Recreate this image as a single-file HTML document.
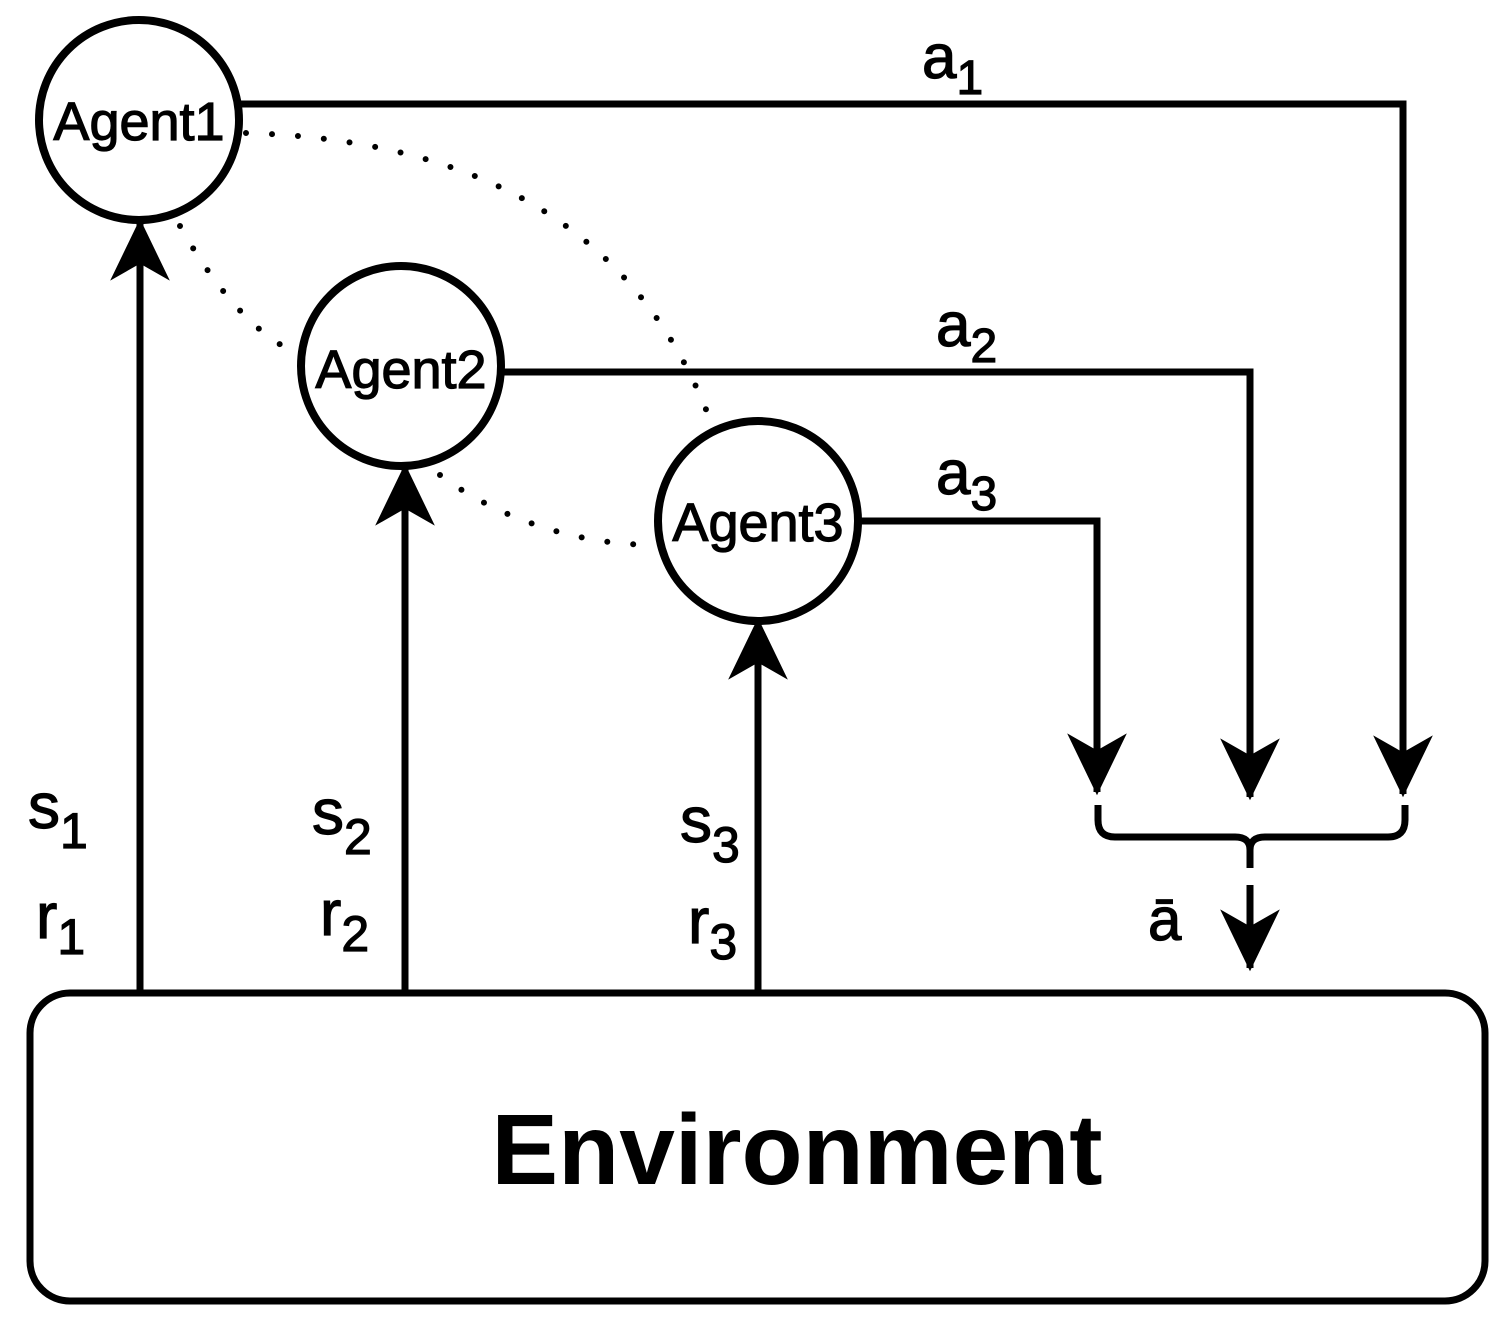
<!DOCTYPE html>
<html><head><style>body{margin:0;background:#fff}svg{display:block}</style></head><body>
<svg width="1509" height="1331" viewBox="0 0 1509 1331" xmlns="http://www.w3.org/2000/svg" font-family="Liberation Sans, Arial, sans-serif">
<defs>
<marker id="ah" viewBox="0 0 60 60" markerWidth="64" markerHeight="64" refX="55" refY="30" orient="auto" markerUnits="userSpaceOnUse">
<path d="M0,2 L58,30 L0,58 L16,30 Z" fill="#000"/>
</marker>
</defs>
<g fill="none" stroke="#000" stroke-width="7">
<rect x="30" y="993" width="1455" height="308" rx="40"/>
<circle cx="139" cy="120" r="100" stroke-width="8"/>
<circle cx="401" cy="366" r="100" stroke-width="8"/>
<circle cx="758" cy="521" r="100" stroke-width="8"/>
<path d="M240,104 H1403 V794" marker-end="url(#ah)"/>
<path d="M501,372 H1250 V797" marker-end="url(#ah)"/>
<path d="M858,521 H1097 V792" marker-end="url(#ah)"/>
<path d="M140,990 V222" marker-end="url(#ah)"/>
<path d="M405,990 V467" marker-end="url(#ah)"/>
<path d="M758,990 V621" marker-end="url(#ah)"/>
<path d="M1250,885 V968" marker-end="url(#ah)"/>
<path d="M1098,805 V820 Q1098,837 1115,837 H1235 Q1250,837 1250,850 Q1250,837 1265,837 H1388 Q1405,837 1405,820 V805"/>
<path d="M1250,845 V868"/>
</g>
<g fill="none" stroke="#000" stroke-width="6" stroke-dasharray="0 26" stroke-linecap="round">
<path d="M246,133 C480,140 640,230 712,425"/>
<path d="M180,226 C210,280 250,330 290,350"/>
<path d="M440,475 C500,520 580,545 655,545"/>
</g>
<g fill="#000" stroke="#000" stroke-width="1.2">
<text x="139" y="140" text-anchor="middle" font-size="54">Agent1</text>
<text x="401" y="388" text-anchor="middle" font-size="54">Agent2</text>
<text x="758" y="541" text-anchor="middle" font-size="54">Agent3</text>
<text x="922" y="78" font-size="62">a<tspan font-size="48" dy="16">1</tspan></text>
<text x="936" y="346" font-size="62">a<tspan font-size="48" dy="16">2</tspan></text>
<text x="936" y="494" font-size="62">a<tspan font-size="48" dy="16">3</tspan></text>
<text x="28" y="828" font-size="64">s<tspan font-size="50" dy="20">1</tspan></text>
<text x="36" y="938" font-size="64">r<tspan font-size="50" dy="16">1</tspan></text>
<text x="312" y="834" font-size="64">s<tspan font-size="50" dy="20">2</tspan></text>
<text x="320" y="935" font-size="64">r<tspan font-size="50" dy="16">2</tspan></text>
<text x="680" y="842" font-size="64">s<tspan font-size="50" dy="20">3</tspan></text>
<text x="688" y="943" font-size="64">r<tspan font-size="50" dy="16">3</tspan></text>
<text x="1148" y="940" font-size="60">ā</text>
<text x="797" y="1184" text-anchor="middle" font-size="100" font-weight="bold" stroke-width="0">Environment</text>
</g>
</svg>
</body></html>
